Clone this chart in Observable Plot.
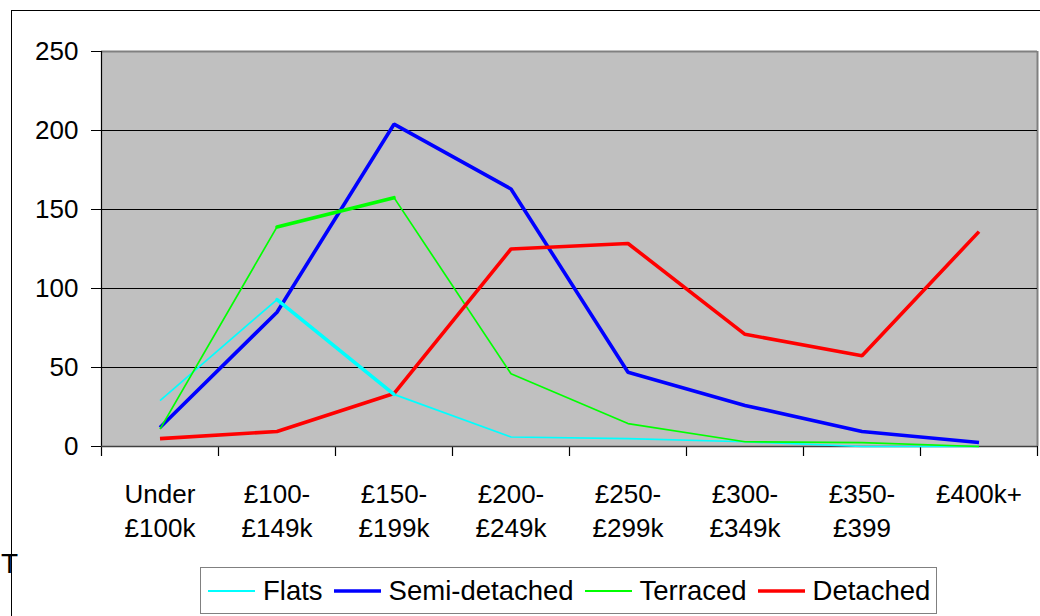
<!DOCTYPE html>
<html>
<head>
<meta charset="utf-8">
<script src="https://cdn.jsdelivr.net/npm/d3@7"></script>
<script src="https://cdn.jsdelivr.net/npm/@observablehq/plot@0.6"></script>
<style>
  html, body { margin: 0; padding: 0; background: #fff; }
  body { width: 1040px; height: 616px; overflow: hidden; position: relative;
         font-family: "Liberation Sans", Arial, sans-serif; }
  #frame { position: absolute; left: 11px; top: 10px; width: 1100px; height: 700px;
           border-left: 1px solid #000; border-top: 1px solid #000; }
  #chart { position: absolute; left: 0; top: 0; }
  #stub { position: absolute; left: 1px; top: 548px; font-size: 28px; line-height: 32px; color: #000; }
  #legend { position: absolute; left: 200px; top: 567px; width: 737px; height: 47px;
            border: 1px solid #808080; background: #fff; box-sizing: border-box;
            display: flex; align-items: center; font-size: 27.5px; color: #000; }
  #legend .item { display: flex; align-items: center; margin-left: 11px; }
  #legend .item:first-child { margin-left: 7px; }
  #legend .swatch { width: 47px; margin-right: 8px; }
</style>
</head>
<body>
<div id="frame"></div>
<div id="chart"></div>
<div id="stub">T</div>
<div id="legend"></div>
<script>
// Price bands (x axis) and the count of sales per property type
const bands = ["Under\n£100k", "£100-\n£149k", "£150-\n£199k", "£200-\n£249k",
               "£250-\n£299k", "£300-\n£349k", "£350-\n£399", "£400k+"];
const flats        = [29, 93, 33, 6, 5, 3, 0, 0];
const semiDetached = [12, 85, 204, 163, 47, 26, 9.5, 2.5];
const terraced     = [11, 139, 157.5, 46, 14.5, 3, 2.5, 0];
const detached     = [5, 9.5, 33.5, 125, 128.5, 71, 57.5, 136];
const yTicks = [0, 50, 100, 150, 200, 250];

const series = [
  {name: "Flats",         values: flats,        color: "#00FFFF", width: 1.7},
  {name: "Semi-detached", values: semiDetached, color: "#0000FF", width: 3.6},
  {name: "Terraced",      values: terraced,     color: "#00FF00", width: 1.7},
  {name: "Detached",      values: detached,     color: "#FF0000", width: 3.6}
];

const idx = d3.range(bands.length);
const edges = d3.range(bands.length + 1).map(i => i - 0.5);
const rows = s => s.values.map((v, i) => ({i, v, name: s.name}));

const font = "Liberation Sans, Arial, sans-serif";

const chart = Plot.plot({
  width: 1040,
  height: 560,
  marginLeft: 101,
  marginRight: 3,
  marginTop: 51,
  marginBottom: 114,
  style: {fontFamily: font, fontSize: "26px", color: "#000", background: "transparent"},
  x: {type: "linear", domain: [-0.5, bands.length - 0.5], axis: null},
  y: {domain: [0, 250], axis: null},
  marks: [
    Plot.frame({fill: "#C0C0C0", stroke: null}),
    // plot-area border on the top and right
    Plot.ruleY([250], {stroke: "#808080", strokeWidth: 2}),
    Plot.ruleX([bands.length - 0.5], {stroke: "#808080", strokeWidth: 2}),
    Plot.ruleY([50, 100, 150, 200], {stroke: "#000", strokeWidth: 1}),
    // category boundary ticks below the x axis
    Plot.ruleX(edges, {x: d => d, y1: 0, y2: 0, insetBottom: -10, stroke: "#000", strokeWidth: 1.2}),
    Plot.axisY({ticks: yTicks, tickSize: 10, tickPadding: 13, fontSize: 26, stroke: "#000", label: null}),
    Plot.ruleX([-0.5], {stroke: "#000", strokeWidth: 1.2}),
    Plot.ruleY([0], {stroke: "#404040", strokeWidth: 1.5}),
    Plot.text(idx, {
      x: d => d, frameAnchor: "bottom", dy: 32, lineAnchor: "top",
      lineHeight: 1.32, text: i => bands[i], fontSize: 26, fill: "#000"
    }),
    ...series.map(s => Plot.line(rows(s), {
      x: "i", y: "v", stroke: s.color, strokeWidth: s.width,
      strokeLinejoin: "miter", strokeLinecap: "butt"
    })),
    // the £100k–£150k segments of the thin series are drawn heavier
    Plot.line(rows(series[0]).slice(1, 3), {x: "i", y: "v", stroke: series[0].color, strokeWidth: 3.6}),
    Plot.line(rows(series[2]).slice(1, 3), {x: "i", y: "v", stroke: series[2].color, strokeWidth: 3.6})
  ]
});

document.getElementById("chart").appendChild(chart);

// legend
const legend = d3.select("#legend");
series.forEach(s => {
  const item = legend.append("div").attr("class", "item");
  const sw = item.append("svg").attr("class", "swatch").attr("width", 47).attr("height", 10);
  sw.append("line").attr("x1", 0).attr("x2", 47).attr("y1", 5).attr("y2", 5)
    .attr("stroke", s.color).attr("stroke-width", s.width === 1.7 ? 2 : 3.6);
  item.append("span").text(s.name);
});
</script>
</body>
</html>
